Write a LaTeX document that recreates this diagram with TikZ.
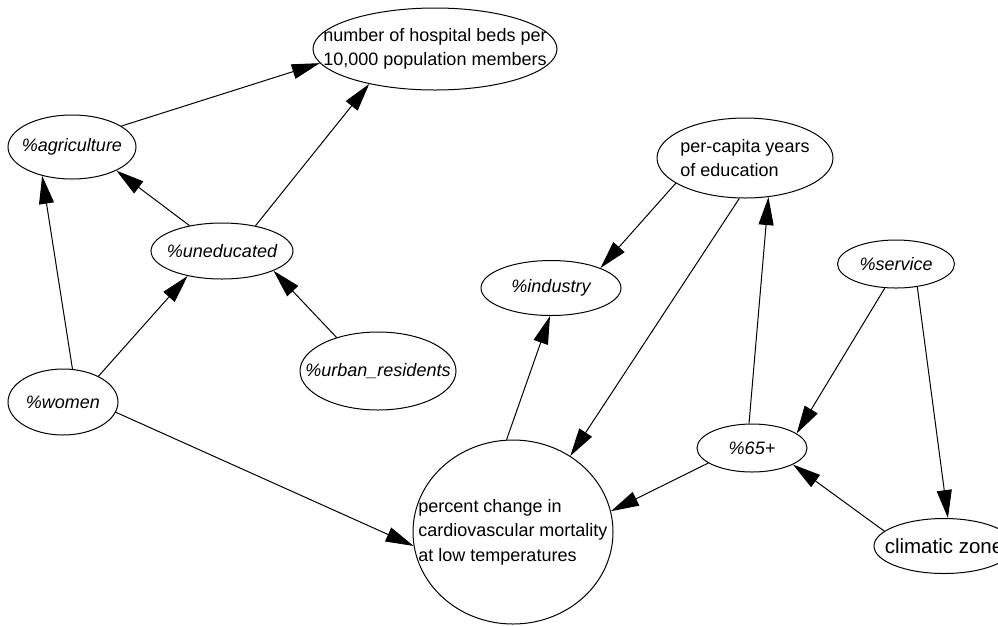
\documentclass[tikz,border=0pt]{standalone}
\usepackage{fontspec}
\setmainfont{Liberation Sans}
\usetikzlibrary{arrows.meta,shapes.geometric}
\tikzset{
  var/.style={draw, ellipse, inner sep=0pt, line width=1pt},
  txt/.style={font=\fontsize{18}{24.5}\selectfont, align=left},
  ital/.style={txt, font=\fontsize{18}{24.5}\selectfont\itshape},
  link/.style={line width=1pt, -{Triangle[length=28pt,width=15pt]}}
}

\begin{document}
\begin{tikzpicture}[x = 1pt, y = -1pt]
\clip (0,0) rectangle (998,625);
\node[var, minimum width=244pt, minimum height=82pt, label={[txt]center:number of hospital beds per\\10,000 population members}] (beds) at (435,49) {};
\node[var, minimum width=128pt, minimum height=64pt, label={[ital]center:\%agriculture}] (agri) at (72,147) {};
\node[var, minimum width=142pt, minimum height=56pt, label={[ital]center:\%uneducated}] (unedu) at (222,251) {};
\node[var, minimum width=110pt, minimum height=66pt, label={[ital]center:\%women}] (women) at (63,402) {};
\node[var, minimum width=156pt, minimum height=78pt, label={[ital]center:\%urban\_residents}] (urban) at (378,371) {};
\node[var, minimum width=200pt, minimum height=184pt, label={[txt]center:percent change in\\cardiovascular mortality\\at low temperatures}] (pct) at (513,532) {};
\node[var, minimum width=176pt, minimum height=80pt, label={[txt]center:per-capita years\\of education}] (edu) at (745,158) {};
\node[var, minimum width=140pt, minimum height=55pt, label={[ital]center:\%industry}] (indus) at (551,288) {};
\node[var, minimum width=117pt, minimum height=48pt, label={[ital]center:\%service}] (serv) at (896,264) {};
\node[var, minimum width=110pt, minimum height=48pt, label={[ital]center:\%65+}] (old) at (752,448) {};
\node[var, minimum width=140pt, minimum height=55pt, label={[txt, font=\fontsize{20.5}{25}\selectfont]center:climatic zone}] (clim) at (944,546) {};
% causal links
\foreach \a/\b in {agri.23/beds.187, unedu.37/beds.208, unedu.142/agri.332,
  women.74/agri.224, women.36/unedu.216, urban.141/unedu.339, women.349/pct.188,
  pct.94/indus.268, edu.200/indus.22, edu.262/pct.53, old.97/edu.301,
  old.199/pct.12, serv.245/old.18, serv.313/clim.82, clim.166/old.338}
  \draw[link] (\a) -- (\b);
\end{tikzpicture}
\end{document}
